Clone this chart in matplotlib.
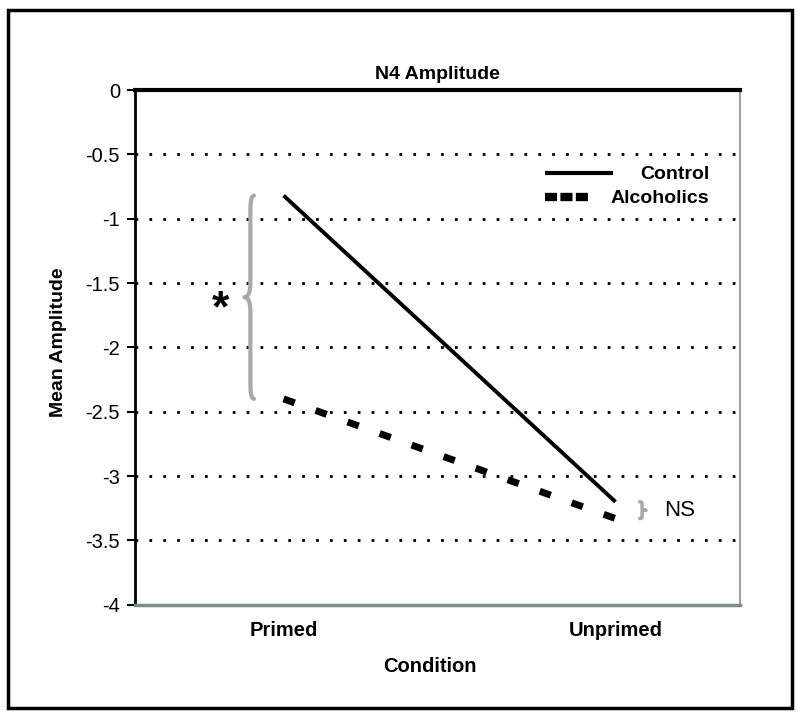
import matplotlib
matplotlib.use("Agg")
import matplotlib.pyplot as plt
from matplotlib.patches import Rectangle, PathPatch
from matplotlib.path import Path

plt.rcParams['font.family'] = ['Liberation Sans', 'DejaVu Sans']

conditions = ["Primed", "Unprimed"]
control = [-0.82, -3.2]
alcoholics = [-2.4, -3.33]
series_names = ["Control", "Alcoholics"]
yticks = [0, -0.5, -1, -1.5, -2, -2.5, -3, -3.5, -4]
ytick_labels = ["0", "-0.5", "-1", "-1.5", "-2", "-2.5", "-3", "-3.5", "-4"]


def brace(ax, xb, top, bot, w, side=-1, lw=3):
    # curly brace from top to bot at x=xb; side=-1 points left, +1 points right
    mid = (top + bot) / 2
    h = abs(top - bot)
    e = 0.07 * h
    verts = [(xb - side * w * 0.6, top),
             (xb, top), (xb, top - e),
             (xb, mid + e),
             (xb, mid), (xb + side * w, mid),
             (xb, mid), (xb, mid - e),
             (xb, bot + e),
             (xb, bot), (xb - side * w * 0.6, bot)]
    codes = [Path.MOVETO, Path.CURVE3, Path.CURVE3, Path.LINETO,
             Path.CURVE3, Path.CURVE3, Path.CURVE3, Path.CURVE3,
             Path.LINETO, Path.CURVE3, Path.CURVE3]
    ax.add_patch(PathPatch(Path(verts, codes), fill=False, edgecolor="#a8a8a8",
                           linewidth=lw, capstyle="round", joinstyle="round"))


fig = plt.figure(figsize=(8, 7.2), dpi=100)
ax = fig.add_axes([0.169, 0.160, 0.756, 0.715])

x = [0, 1]
ax.plot(x, control, color="black", linewidth=2.8, solid_capstyle="butt")
ax.plot(x, alcoholics, color="black", linewidth=5, linestyle=(0, (1.7, 3.2)),
        dash_capstyle="butt")

ax.set_xlim(-0.447, 1.375)
ax.set_ylim(-4, 0)
ax.set_xticks(x)
ax.set_xticklabels(conditions, fontsize=14.5, fontweight="bold")
ax.set_yticks(yticks)
ax.set_yticklabels(ytick_labels, fontsize=14.5)
for yv in yticks[1:-1]:
    ax.axhline(yv, color="black", linewidth=2, linestyle=(0, (1, 4)), zorder=0)

ax.tick_params(axis="x", length=0, pad=12)
ax.tick_params(axis="y", length=6, width=1.5, direction="out", pad=5)
ax.spines["top"].set_linewidth(3)
ax.spines["top"].set_color("black")
ax.spines["left"].set_linewidth(2)
ax.spines["left"].set_color("black")
ax.spines["bottom"].set_linewidth(2.5)
ax.spines["bottom"].set_color("#7c8c8c")
ax.spines["right"].set_linewidth(1.5)
ax.spines["right"].set_color("#a0a0a0")

ax.set_title("N4 Amplitude", fontsize=14, fontweight="bold", pad=8)
ax.set_xlabel("Condition", fontsize=14.5, fontweight="bold")
ax.xaxis.set_label_coords(0.488, -0.101)
ax.set_ylabel("Mean Amplitude", fontsize=14, fontweight="bold")
ax.yaxis.set_label_coords(-0.112, 0.51)

# significance annotations
brace(ax, -0.10, control[0], alcoholics[0], 0.018, side=-1, lw=3)
ax.text(-0.19, (control[0] + alcoholics[0]) / 2 - 0.1, "*", fontsize=32,
        color="black", ha="center", va="center", fontweight="bold")
brace(ax, 1.08, control[1], alcoholics[1], 0.012, side=1, lw=2.5)
ax.text(1.145, (control[1] + alcoholics[1]) / 2, "NS", fontsize=16,
        color="black", ha="left", va="center")

# legend, drawn by hand (labels right-aligned as in the original)
ax.plot([0.678, 0.790], [0.839, 0.839], transform=ax.transAxes, color="black",
        linewidth=3, solid_capstyle="butt", clip_on=False)
ax.plot([0.678, 0.749], [0.792, 0.792], transform=ax.transAxes, color="black",
        linewidth=6, linestyle=(0, (1.45, 0.4, 1.45, 0.4, 1.45, 20)),
        dash_capstyle="butt", clip_on=False)
ax.text(0.949, 0.836, series_names[0], transform=ax.transAxes, fontsize=14,
        fontweight="bold", ha="right", va="center")
ax.text(0.949, 0.789, series_names[1], transform=ax.transAxes, fontsize=14,
        fontweight="bold", ha="right", va="center")

fig.patches.append(Rectangle((0.010, 0.017), 0.980, 0.969, transform=fig.transFigure,
                             fill=False, edgecolor="black", linewidth=2.5))

fig.savefig("out.png", dpi=100)
